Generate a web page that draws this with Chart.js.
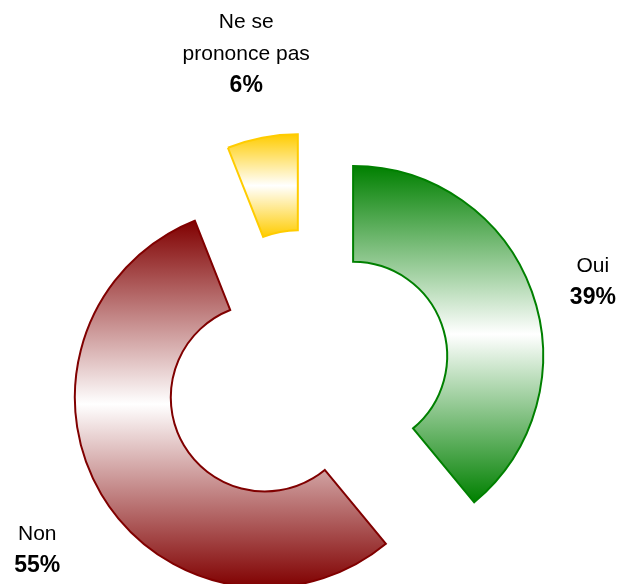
<!DOCTYPE html>
<html lang="fr">
<head>
<meta charset="utf-8">
<title>Sondage</title>
<script src="https://cdn.jsdelivr.net/npm/chart.js@4.4.1/dist/chart.umd.min.js"></script>
<style>
  html, body { margin: 0; padding: 0; background: #fff; }
  #wrap { width: 621px; height: 584px; }
</style>
</head>
<body>
<div id="wrap"><canvas id="chart" width="621" height="584"></canvas></div>
<script>
const categories = ['Oui', 'Non', 'Ne se prononce pas'];
const values = [39, 55, 6];

const sliceColors = ['#008000', '#800000', '#ffcc00'];

// Vertical extent of a slice (before it is pushed out), used for the gradient
function sliceBox(arc) {
  let top = Infinity;
  let bottom = -Infinity;
  const steps = 60;
  for (let i = 0; i <= steps; i++) {
    const a = arc.startAngle + (arc.endAngle - arc.startAngle) * i / steps;
    [arc.innerRadius, arc.outerRadius].forEach(r => {
      const y = arc.y + Math.sin(a) * r;
      top = Math.min(top, y);
      bottom = Math.max(bottom, y);
    });
  }
  return { top, bottom };
}

// Draws each slice moved out along its middle angle, filled colour -> white -> colour
const explodedSlices = {
  id: 'explodedSlices',
  beforeDatasetDraw(chart, args, opts) {
    const ctx = chart.ctx;
    args.meta.data.forEach((arc, i) => {
      const mid = (arc.startAngle + arc.endAngle) / 2;
      const { top, bottom } = sliceBox(arc);
      const grad = ctx.createLinearGradient(0, top, 0, bottom);
      grad.addColorStop(0, sliceColors[i]);
      grad.addColorStop(0.5, '#ffffff');
      grad.addColorStop(1, sliceColors[i]);

      const base = arc.options;
      arc.options = Object.assign({}, base, { backgroundColor: grad });
      ctx.save();
      ctx.translate(Math.cos(mid) * opts.distance, Math.sin(mid) * opts.distance);
      arc.draw(ctx);
      ctx.restore();
      arc.options = base;
    });
    return false;
  },
};

function wrapText(ctx, text, maxWidth) {
  const lines = [];
  let line = '';
  text.split(' ').forEach(word => {
    const test = line ? line + ' ' + word : word;
    if (line && ctx.measureText(test).width > maxWidth) {
      lines.push(line);
      line = word;
    } else {
      line = test;
    }
  });
  if (line) lines.push(line);
  return lines;
}

// Category name + bold percentage next to each slice
const sliceLabels = {
  id: 'sliceLabels',
  afterDatasetsDraw(chart, args, opts) {
    const ctx = chart.ctx;
    const meta = chart.getDatasetMeta(0);
    const total = values.reduce((s, v) => s + v, 0);
    ctx.save();
    ctx.fillStyle = '#000';
    ctx.textAlign = 'center';
    ctx.textBaseline = 'alphabetic';
    meta.data.forEach((arc, i) => {
      const mid = (arc.startAngle + arc.endAngle) / 2;
      const r = arc.outerRadius + opts.explode;
      const cx = arc.x + Math.cos(mid) * r + opts.offsets[i][0];
      const cy = arc.y + Math.sin(mid) * r + opts.offsets[i][1];

      ctx.font = opts.font;
      const lines = wrapText(ctx, categories[i], opts.maxWidth);
      lines.push(Math.round(values[i] / total * 100) + '%');
      const n = lines.length;
      lines.forEach((line, k) => {
        ctx.font = k === n - 1 ? opts.boldFont : opts.font;
        ctx.fillText(line, cx, cy + opts.baseline + (k - (n - 1) / 2) * opts.lineHeight);
      });
    });
    ctx.restore();
  },
};

new Chart(document.getElementById('chart'), {
  type: 'doughnut',
  data: {
    labels: categories,
    datasets: [
      {
        data: values,
        backgroundColor: sliceColors,
        borderColor: sliceColors,
        borderWidth: 2,
        borderJoinStyle: 'miter',
      },
    ],
  },
  options: {
    responsive: false,
    devicePixelRatio: 1,
    animation: false,
    events: [],
    radius: 190,
    cutout: '49.5%',
    layout: {
      padding: { left: 0, right: 7, top: 161, bottom: 0 },
    },
    plugins: {
      legend: { display: false },
      tooltip: { enabled: false },
      explodedSlices: { distance: 49 },
      sliceLabels: {
        explode: 49,
        offsets: [[61, -11], [-64, 55], [-16, -85]],
        font: '21px "Liberation Sans", Arial, sans-serif',
        boldFont: 'bold 23px "Liberation Sans", Arial, sans-serif',
        maxWidth: 135,
        lineHeight: 32,
        baseline: 7,
      },
    },
  },
  plugins: [explodedSlices, sliceLabels],
});
</script>
</body>
</html>
